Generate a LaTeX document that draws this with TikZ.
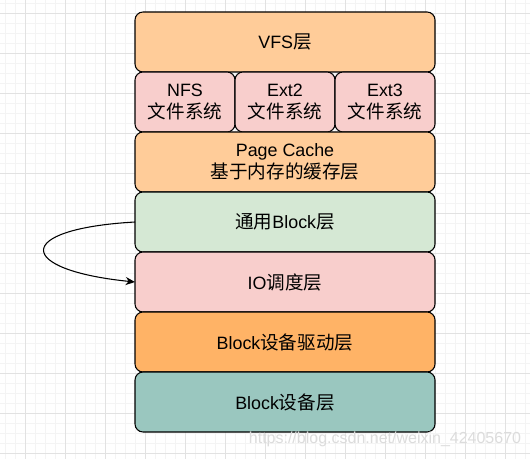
\documentclass[tikz,border=0pt]{standalone}
\usepackage{fontspec}
\setmainfont{Liberation Sans}
\newfontfamily\cjk[Scale=1.04]{Noto Sans CJK SC}
\usetikzlibrary{positioning,arrows.meta}
\definecolor{gridmajor}{HTML}{E2E2E2}
\definecolor{gridminor}{HTML}{F4F4F4}
\definecolor{vfsfill}{HTML}{FFCC99}
\definecolor{fsfill}{HTML}{F8CECC}
\definecolor{blkfill}{HTML}{D5E8D4}
\definecolor{drvfill}{HTML}{FFB366}
\definecolor{devfill}{HTML}{9AC7BF}
\definecolor{mark}{HTML}{DCDCDC}
\newcommand{\zh}[1]{{\cjk #1}}
\tikzset{
  layer/.style={draw=black, line width=0.8pt, rounded corners=6pt,
    minimum width=225pt, minimum height=45pt, inner sep=0pt, outer sep=0pt,
    align=center, font=\fontsize{13.4}{16}\selectfont},
  fsbox/.style={layer, fill=fsfill, minimum width=75pt},
  flow/.style={draw=black, line width=0.8pt, -{Stealth[length=7pt,width=6pt]}},
}

\begin{document}
\begin{tikzpicture}[x=0.75pt, y=-0.75pt]
\useasboundingbox (0,0) rectangle (530,459);
\fill[white] (0,0) rectangle (530,459);
% grid
\foreach \gx in {5,15,...,525} \draw[gridminor, line width=0.5pt] (\gx,0) -- (\gx,459);
\foreach \gy in {3,13,...,453} \draw[gridminor, line width=0.5pt] (0,\gy) -- (530,\gy);
\foreach \gx in {25,65,...,505} \draw[gridmajor, line width=0.6pt] (\gx,0) -- (\gx,459);
\foreach \gy in {13,53,...,453} \draw[gridmajor, line width=0.6pt] (0,\gy) -- (530,\gy);

% layers
\node[layer, fill=vfsfill] (vfs) at (285,42) {VFS\zh{层}};
\node[fsbox, anchor=north west] (nfs) at (vfs.south west) {NFS\\\zh{文件系统}};
\node[fsbox, right=0pt of nfs] (ext2) {Ext2\\\zh{文件系统}};
\node[fsbox, right=0pt of ext2] (ext3) {Ext3\\\zh{文件系统}};
\node[layer, fill=vfsfill, below=0pt of ext2] (cache) {Page Cache\\\zh{基于内存的缓存层}};
\node[layer, fill=blkfill, below=0pt of cache] (blk) {\zh{通用}Block\zh{层}};
\node[layer, fill=fsfill, below=0pt of blk] (io) {IO\zh{调度层}};
\node[layer, fill=drvfill, below=0pt of io] (drv) {Block\zh{设备驱动层}};
\node[layer, fill=devfill, below=0pt of drv] (dev) {Block\zh{设备层}};

\draw[flow] (blk.west) .. controls (12,229) and (16,270) .. (io.west);

\node[text=mark, font=\fontsize{12}{14}\selectfont] (url) at (385,439) {https://blog.csdn.net/weixin\_42405670};
\end{tikzpicture}
\end{document}
